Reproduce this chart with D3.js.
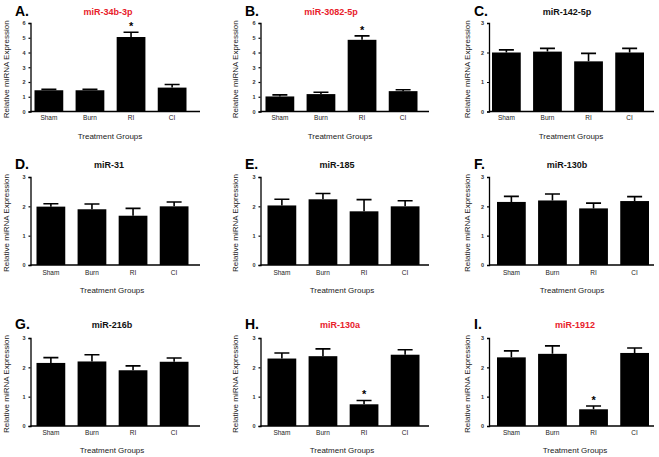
<!DOCTYPE html>
<html>
<head>
<meta charset="utf-8">
<script src="https://cdn.jsdelivr.net/npm/d3@7"></script>
<style>
  body { margin: 0; background: #fff; }
  svg { font-family: "Liberation Sans", Arial, sans-serif; }
</style>
</head>
<body>
<div id="io"></div>
<script>
// data
const groups = ['Sham', 'Burn', 'RI', 'CI'];
const letters = ['A.', 'B.', 'C.', 'D.', 'E.', 'F.', 'G.', 'H.', 'I.'];
const mirnas = ['miR-34b-3p', 'miR-3082-5p', 'miR-142-5p', 'miR-31', 'miR-185',
  'miR-130b', 'miR-216b', 'miR-130a', 'miR-1912'];
const significant = [true, true, false, false, false, false, false, true, true];
const yMax = [6, 6, 3, 3, 3, 3, 3, 3, 3];
const means = [
  [1.44, 1.44, 5.05, 1.62],
  [1.02, 1.18, 4.86, 1.38],
  [2.00, 2.03, 1.70, 2.00],
  [1.99, 1.90, 1.68, 2.00],
  [2.03, 2.24, 1.83, 2.00],
  [2.15, 2.20, 1.93, 2.18],
  [2.15, 2.20, 1.90, 2.19],
  [2.30, 2.38, 0.74, 2.43],
  [2.34, 2.46, 0.57, 2.49]
];
const sems = [
  [0.06, 0.06, 0.32, 0.21],
  [0.11, 0.13, 0.27, 0.09],
  [0.09, 0.11, 0.27, 0.14],
  [0.10, 0.18, 0.25, 0.15],
  [0.21, 0.20, 0.40, 0.19],
  [0.19, 0.22, 0.18, 0.15],
  [0.18, 0.23, 0.15, 0.13],
  [0.19, 0.25, 0.13, 0.17],
  [0.22, 0.27, 0.11, 0.17]
];
const starGroup = ['RI', 'RI', null, null, null, null, null, 'RI', 'RI'];

// layout (pixels)
const colAxisX = [30.5, 260.5, 489];
const colXEnd = [200, 429, 654];
const colLetterX = [15, 245, 474];
const colYTitleX = [6, 235, 467];
const rowTop = [23, 177, 338];
const rowBot = [111.5, 265, 426];
const rowLetterY = [16, 169, 329];
const rowTickY = [120, 275, 435];
const rowAxisTitleY = [139, 293, 453];
const barGap = [4, 5, 3, 6, 7, 8, 6, 7, 8];
const titleX = [108, 331, 567, 109, 337, 567, 112, 340, 575];
const axisTitleX = [110, 340, 571, 112, 342, 572, 112, 342, 575];

const svg = d3.select('#io').append('svg')
  .attr('width', 659).attr('height', 457);

mirnas.forEach(function(name, p) {
  const c = p % 3, r = Math.floor(p / 3);
  const g = svg.append('g');
  const ax = colAxisX[c];

  const y = d3.scaleLinear().domain([0, yMax[p]]).range([rowBot[r], rowTop[r]]);
  const x = d3.scaleBand()
    .domain(groups)
    .range([ax + barGap[p], ax + barGap[p] + 152])
    .paddingInner(0.3).paddingOuter(0);

  const rows = groups.map((gr, i) => ({ group: gr, mean: means[p][i], sem: sems[p][i] }));

  // bars
  g.selectAll('.bar')
    .data(rows)
    .enter()
    .append('rect')
    .attr('x', d => x(d.group))
    .attr('width', x.bandwidth())
    .attr('y', d => y(d.mean))
    .attr('height', d => y(0) - y(d.mean))
    .style('fill', '#000');

  // upper error bars
  const cap = 15;
  g.selectAll('.err')
    .data(rows)
    .enter()
    .append('path')
    .attr('d', d => {
      const cx = x(d.group) + x.bandwidth() / 2;
      return 'M' + cx + ',' + y(d.mean) + 'V' + y(d.mean + d.sem) +
        'M' + (cx - cap / 2) + ',' + y(d.mean + d.sem) + 'H' + (cx + cap / 2);
    })
    .attr('stroke', '#000').attr('stroke-width', 1.6).attr('fill', 'none');

  // stars
  if (starGroup[p]) {
    const d = rows.find(d => d.group === starGroup[p]);
    g.append('text')
      .attr('x', x(d.group) + x.bandwidth() / 2)
      .attr('y', y(d.mean + d.sem) - 2)
      .attr('text-anchor', 'middle')
      .style('font-size', '11px').style('font-weight', 'bold')
      .text('*');
  }

  // y axis
  const yAxis = g.append('g')
    .attr('transform', 'translate(' + ax + ',0)')
    .call(d3.axisLeft(y).ticks(yMax[p]).tickSize(2).tickPadding(3));
  yAxis.select('.domain').attr('stroke-width', 1.3);
  yAxis.selectAll('.tick line').attr('stroke-width', 1.2);
  yAxis.selectAll('text').style('font-size', '5.5px').style('font-weight', 'bold').attr('fill', '#333');

  // x axis line
  g.append('line')
    .attr('x1', ax).attr('x2', colXEnd[c])
    .attr('y1', y(0)).attr('y2', y(0))
    .attr('stroke', '#000').attr('stroke-width', 1.3);

  // x tick labels
  g.selectAll('.xl')
    .data(groups)
    .enter()
    .append('text')
    .attr('x', d => x(d) + x.bandwidth() / 2)
    .attr('y', rowTickY[r])
    .attr('text-anchor', 'middle')
    .style('font-size', '6.5px')
    .attr('fill', '#222')
    .text(d => d);

  // axis titles
  g.append('text')
    .attr('x', axisTitleX[p]).attr('y', rowAxisTitleY[r])
    .attr('text-anchor', 'middle')
    .style('font-size', '8px').attr('fill', '#222')
    .text('Treatment Groups');

  g.append('text')
    .attr('transform', 'translate(' + (colYTitleX[c] + 2.8) + ',' + ((rowTop[r] + rowBot[r]) / 2 + 2) + ') rotate(-90)')
    .attr('text-anchor', 'middle')
    .style('font-size', '8px').attr('fill', '#222')
    .text('Relative miRNA Expression');

  // panel letter and title
  g.append('text')
    .attr('x', colLetterX[c]).attr('y', rowLetterY[r])
    .style('font-size', '14px').style('font-weight', 'bold')
    .text(letters[p]);

  g.append('text')
    .attr('x', titleX[p]).attr('y', rowLetterY[r] - 1)
    .attr('text-anchor', 'middle')
    .style('font-size', '9px').style('font-weight', 'bold')
    .attr('fill', significant[p] ? '#e8202a' : '#111')
    .text(name);
});
</script>
</body>
</html>
